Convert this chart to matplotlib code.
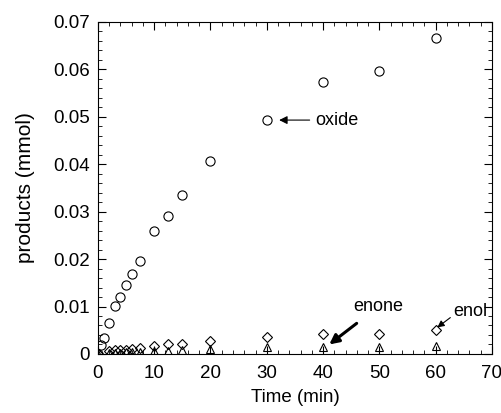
import matplotlib.pyplot as plt
from matplotlib.ticker import MultipleLocator, FuncFormatter

plt.rcParams['font.family'] = ['Liberation Sans', 'DejaVu Sans']

# time points (min)
t = [0, 0.5, 1, 2, 3, 4, 5, 6, 7.5, 10, 12.5, 15, 20, 30, 40, 50, 60]
oxide = [0.0, 0.0019, 0.0034, 0.0066, 0.0101, 0.0120, 0.0145, 0.0168, 0.0195,
         0.0260, 0.0291, 0.0336, 0.0407, 0.0493, 0.0573, 0.0596, 0.0667]

t_small = [0, 2, 3, 4, 5, 6, 7.5, 10, 12.5, 15, 20, 30, 40, 50, 60]
enol = [0.0, 0.0007, 0.0008, 0.0008, 0.0009, 0.0010, 0.0013, 0.0017, 0.0020,
        0.0022, 0.0027, 0.0036, 0.0041, 0.0042, 0.0050]
enone = [0.0, 0.0002, 0.0003, 0.0003, 0.0004, 0.0005, 0.0005, 0.0006, 0.0007,
         0.0008, 0.0010, 0.0015, 0.0015, 0.0015, 0.0017]

fig = plt.figure(figsize=(5.02, 4.13), dpi=100)
ax = fig.add_axes([0.195, 0.143, 0.785, 0.804])

ax.plot(t, oxide, 'o', mfc='none', mec='black', mew=0.8, ms=6.6)
ax.plot(t_small, enol, 'D', mfc='none', mec='black', mew=0.8, ms=4.6)
ax.plot(t_small, enone, '^', mfc='none', mec='black', mew=0.8, ms=5.4)

ax.set_xlim(0, 70)
ax.set_ylim(0, 0.07)
ax.xaxis.set_major_locator(MultipleLocator(10))
ax.xaxis.set_minor_locator(MultipleLocator(2))
ax.yaxis.set_major_locator(MultipleLocator(0.01))
ax.yaxis.set_minor_locator(MultipleLocator(0.002))
ax.yaxis.set_major_formatter(FuncFormatter(lambda v, p: '0' if abs(v) < 1e-9 else '%.2f' % v))
ax.tick_params(which='both', direction='in', top=True, right=True, labelsize=13.5)
ax.tick_params(which='major', length=6)
ax.tick_params(which='minor', length=3)
ax.tick_params(axis='x', which='major', pad=8)
ax.tick_params(axis='y', which='major', pad=6)
for s in ax.spines.values():
    s.set_linewidth(0.8)

ax.set_xlabel('Time (min)', fontsize=13.5, labelpad=5)
ax.set_ylabel('products (mmol)', fontsize=15, labelpad=13)

ax.annotate('oxide', xy=(32.2, 0.0493), xytext=(38.6, 0.0493), fontsize=13,
            va='center', ha='left',
            arrowprops=dict(arrowstyle='-|>', color='black', lw=0.8,
                            mutation_scale=12, shrinkA=2, shrinkB=0))
ax.annotate('enone', xy=(41.1, 0.002), xytext=(45.3, 0.0099), fontsize=13,
            va='center', ha='left',
            arrowprops=dict(arrowstyle='-|>', color='black', lw=2.2,
                            mutation_scale=14, shrinkA=6, shrinkB=0))
ax.annotate('enol', xy=(60.3, 0.0056), xytext=(63.1, 0.0090), fontsize=13,
            va='center', ha='left',
            arrowprops=dict(arrowstyle='-|>', color='black', lw=0.8,
                            mutation_scale=10, shrinkA=0, shrinkB=0,
                            relpos=(0, 0.25)))

plt.savefig('out.png', dpi=100)
